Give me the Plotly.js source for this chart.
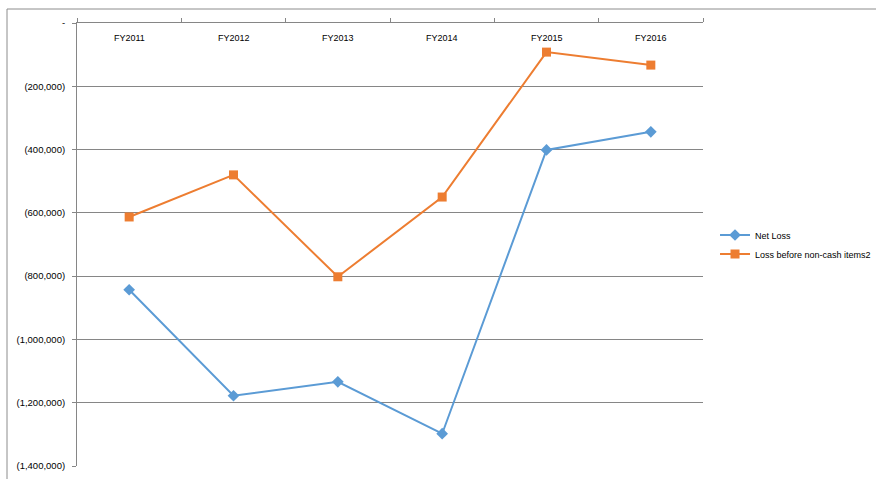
<!DOCTYPE html>
<html>
<head>
<meta charset="utf-8">
<script src="https://cdn.plot.ly/plotly-3.0.1.min.js"></script>
<style>html,body{margin:0;padding:0;background:#fff;}#chart{width:876px;height:479px;}</style>
</head>
<body>
<div id="chart"></div>
<script>
const categories = ["FY2011", "FY2012", "FY2013", "FY2014", "FY2015", "FY2016"];
const netLoss = [-843000, -1178000, -1134000, -1298000, -401000, -344000];
const lossBeforeNonCash = [-613000, -480000, -802000, -550000, -92000, -133000];
const yTickVals = [0, -200000, -400000, -600000, -800000, -1000000, -1200000, -1400000];
const yTickText = ["-", "(200,000)", "(400,000)", "(600,000)", "(800,000)", "(1,000,000)", "(1,200,000)", "(1,400,000)"];
const seriesNames = ["Net Loss", "Loss before non-cash items2"];

const traces = [
  {x: categories, y: netLoss, name: seriesNames[0], type: "scatter", mode: "lines+markers",
   line: {color: "#5b9bd5", width: 2}, marker: {symbol: "diamond", size: 9, color: "#5b9bd5"}},
  {x: categories, y: lossBeforeNonCash, name: seriesNames[1], type: "scatter", mode: "lines+markers",
   line: {color: "#ed7d31", width: 2}, marker: {symbol: "square", size: 9, color: "#ed7d31"}}
];

const catLabels = categories.map(c => ({
  x: c, xref: "x", y: 1 - 15 / 443, yref: "paper", text: c, showarrow: false,
  xanchor: "center", yanchor: "middle", font: {size: 9, color: "#000"}
}));

const layout = {
  width: 876, height: 479,
  margin: {l: 77, r: 173, t: 23, b: 13, autoexpand: false},
  paper_bgcolor: "#fff", plot_bgcolor: "#fff",
  font: {family: "Liberation Sans, Arial, sans-serif", size: 9, color: "#000"},
  showlegend: true,
  legend: {x: 0.0192 + 1, y: 0.5, xanchor: "left", yanchor: "middle", font: {size: 9},
           tracegroupgap: 4, bgcolor: "rgba(0,0,0,0)"},
  xaxis: {type: "category", side: "top", showticklabels: false, range: [-0.5, 5.5],
          tickson: "boundaries", ticks: "outside", ticklen: 4, tickcolor: "#868686",
          showline: true, linecolor: "#868686", linewidth: 1, showgrid: false,
          zeroline: false, fixedrange: true},
  yaxis: {range: [-1400000, 0], tickvals: yTickVals, ticktext: yTickText,
          ticks: "outside", ticklen: 4, tickcolor: "#868686", ticklabelstandoff: 5,
          showline: true, linecolor: "#868686", linewidth: 1,
          showgrid: true, gridcolor: "#868686", gridwidth: 1, zeroline: false,
          tickfont: {size: 9.5}, fixedrange: true},
  annotations: catLabels,
  shapes: [
    {type: "rect", xref: "paper", yref: "paper",
     x0: (7 - 77) / 626, x1: 1 + (890 - 703) / 626,
     y0: -(30) / 443, y1: 1 + (23 - 9) / 443,
     line: {color: "#8c8c8c", width: 1}, fillcolor: "rgba(0,0,0,0)", layer: "below"}
  ]
};

Plotly.newPlot("chart", traces, layout, {displayModeBar: false, staticPlot: true});
</script>
</body>
</html>
